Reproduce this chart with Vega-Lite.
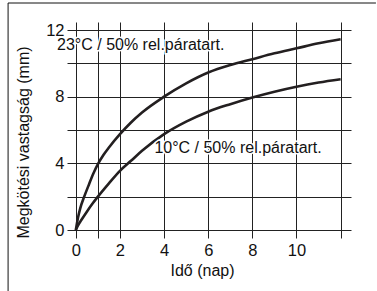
{
  "$schema": "https://vega.github.io/schema/vega-lite/v6.json",
  "width": 284,
  "height": 216,
  "autosize": {"type": "none"},
  "padding": {"left": 67, "top": 22, "right": 26, "bottom": 53},
  "background": "white",
  "config": {"view": {"stroke": null}, "font": "Liberation Sans"},
  "datasets": {
    "curves": [
      {"series": "23°C", "day": 0, "mm": 0},
      {"series": "23°C", "day": 0.1, "mm": 0.75},
      {"series": "23°C", "day": 0.2, "mm": 1.3},
      {"series": "23°C", "day": 0.38, "mm": 2.0},
      {"series": "23°C", "day": 0.6, "mm": 2.75},
      {"series": "23°C", "day": 0.8, "mm": 3.4},
      {"series": "23°C", "day": 1, "mm": 3.95},
      {"series": "23°C", "day": 1.25, "mm": 4.5},
      {"series": "23°C", "day": 1.5, "mm": 4.95},
      {"series": "23°C", "day": 2, "mm": 5.75},
      {"series": "23°C", "day": 2.5, "mm": 6.45},
      {"series": "23°C", "day": 3, "mm": 7.05},
      {"series": "23°C", "day": 4, "mm": 8.0},
      {"series": "23°C", "day": 5, "mm": 8.8},
      {"series": "23°C", "day": 6, "mm": 9.45},
      {"series": "23°C", "day": 7, "mm": 9.9},
      {"series": "23°C", "day": 8, "mm": 10.25},
      {"series": "23°C", "day": 9, "mm": 10.6},
      {"series": "23°C", "day": 10, "mm": 10.9},
      {"series": "23°C", "day": 11, "mm": 11.2},
      {"series": "23°C", "day": 12, "mm": 11.45},
      {"series": "10°C", "day": 0, "mm": 0},
      {"series": "10°C", "day": 0.1, "mm": 0.28},
      {"series": "10°C", "day": 0.25, "mm": 0.6},
      {"series": "10°C", "day": 0.5, "mm": 1.1},
      {"series": "10°C", "day": 0.75, "mm": 1.57},
      {"series": "10°C", "day": 1, "mm": 2.0},
      {"series": "10°C", "day": 1.5, "mm": 2.8},
      {"series": "10°C", "day": 2, "mm": 3.55},
      {"series": "10°C", "day": 2.5, "mm": 4.15},
      {"series": "10°C", "day": 3, "mm": 4.75},
      {"series": "10°C", "day": 4, "mm": 5.75},
      {"series": "10°C", "day": 5, "mm": 6.5},
      {"series": "10°C", "day": 6, "mm": 7.1},
      {"series": "10°C", "day": 7, "mm": 7.55},
      {"series": "10°C", "day": 8, "mm": 7.95},
      {"series": "10°C", "day": 9, "mm": 8.3},
      {"series": "10°C", "day": 10, "mm": 8.6},
      {"series": "10°C", "day": 11, "mm": 8.85},
      {"series": "10°C", "day": 12, "mm": 9.05}
    ],
    "labels": [
      {"label": "23°C / 50% rel.páratart.", "day": -0.85, "mm": 10.8},
      {"label": "10°C / 50% rel.páratart.", "day": 3.56, "mm": 4.62}
    ],
    "frame": [
      {"day": -3.07, "day2": -3.07, "mm": -4, "mm2": 13.62},
      {"day": -3.07, "day2": 13.6, "mm": 13.62, "mm2": 13.62}
    ]
  },
  "encoding": {
    "x": {
      "field": "day", "type": "quantitative",
      "scale": {"domain": [-0.4, 12.47], "nice": false, "zero": false},
      "axis": {
        "title": "Idő (nap)",
        "values": [0, 1, 2, 4, 6, 8, 10, 12],
        "labelExpr": "datum.value == 1 || datum.value == 12 ? '' : datum.label",
        "grid": true, "gridColor": "#222222", "gridWidth": 1, "gridOpacity": 1,
        "ticks": false, "domain": false,
        "labelFontSize": 16.5, "labelColor": "#111111", "labelPadding": 4, "labelFlush": false,
        "titleFontSize": 16, "titleFontWeight": "normal", "titleColor": "#111111", "titlePadding": 4,
        "titleX": 135
      }
    },
    "y": {
      "field": "mm", "type": "quantitative",
      "scale": {"domain": [-0.48, 12.48], "nice": false, "zero": false},
      "axis": {
        "title": "Megkötési vastagság (mm)",
        "values": [0, 2, 4, 6, 8, 10, 12],
        "labelExpr": "datum.value % 4 == 0 ? datum.label : ''",
        "grid": true, "gridColor": "#222222", "gridWidth": 1, "gridOpacity": 1,
        "ticks": false, "domain": false,
        "labelFontSize": 16.5, "labelColor": "#111111", "labelPadding": 3, "labelFlush": false,
        "titleFontSize": 16, "titleFontWeight": "normal", "titleColor": "#111111", "titlePadding": 14,
        "titleAnchor": "start"
      }
    }
  },
  "layer": [
    {
      "data": {"name": "curves"},
      "mark": {"type": "line", "interpolate": "monotone", "strokeWidth": 2.6, "color": "#231f20", "clip": false},
      "encoding": {"detail": {"field": "series"}}
    },
    {
      "data": {"name": "labels"},
      "mark": {"type": "text", "align": "left", "baseline": "alphabetic", "fontSize": 16, "stroke": "white", "strokeWidth": 3, "fill": "white"},
      "encoding": {"text": {"field": "label"}}
    },
    {
      "data": {"name": "labels"},
      "mark": {"type": "text", "align": "left", "baseline": "alphabetic", "fontSize": 16, "color": "#111111"},
      "encoding": {"text": {"field": "label"}}
    },
    {
      "data": {"name": "frame"},
      "mark": {"type": "rule", "color": "#111111", "strokeWidth": 1, "clip": false},
      "encoding": {
        "x2": {"field": "day2"},
        "y2": {"field": "mm2"}
      }
    }
  ]
}
